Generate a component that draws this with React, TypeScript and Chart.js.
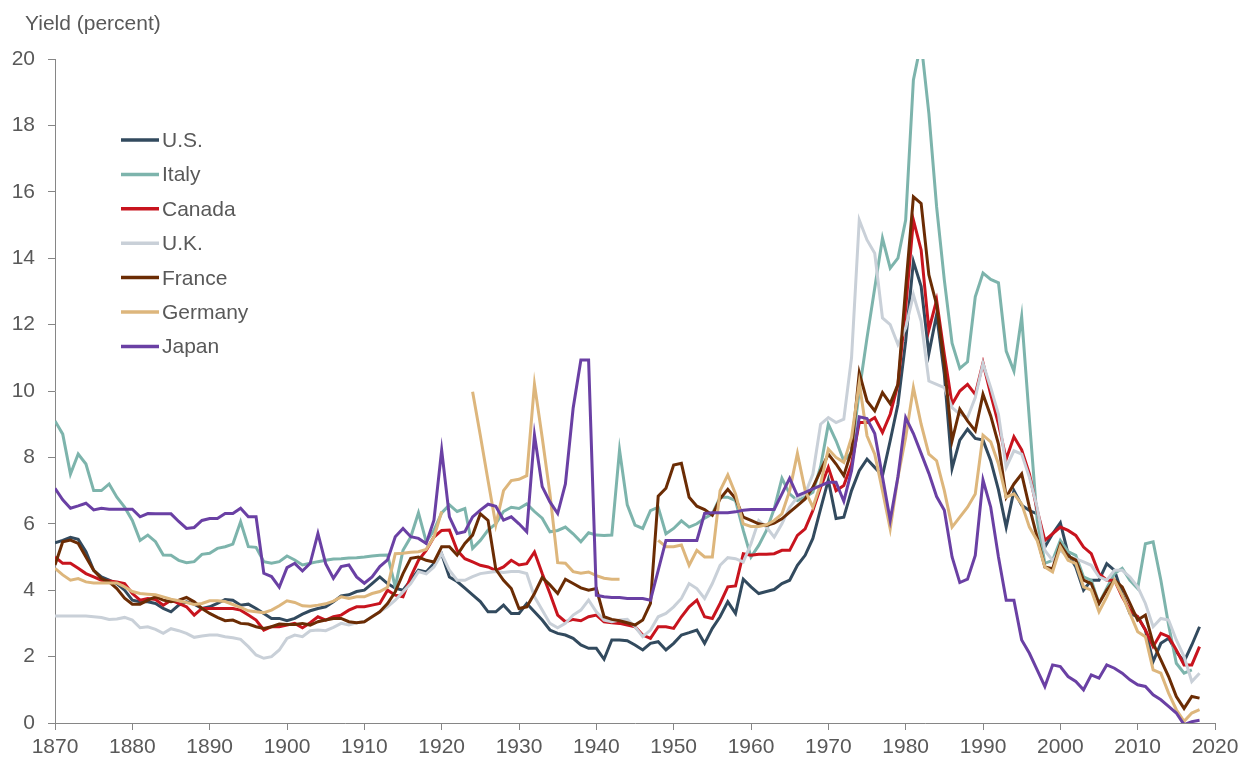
import React, { useEffect, useRef } from 'react';
import { Chart, registerables } from 'chart.js';

Chart.register(...registerables);

const years = [
  1870, 1871, 1872, 1873, 1874, 1875, 1876, 1877, 1878, 1879,
  1880, 1881, 1882, 1883, 1884, 1885, 1886, 1887, 1888, 1889,
  1890, 1891, 1892, 1893, 1894, 1895, 1896, 1897, 1898, 1899,
  1900, 1901, 1902, 1903, 1904, 1905, 1906, 1907, 1908, 1909,
  1910, 1911, 1912, 1913, 1914, 1915, 1916, 1917, 1918, 1919,
  1920, 1921, 1922, 1923, 1924, 1925, 1926, 1927, 1928, 1929,
  1930, 1931, 1932, 1933, 1934, 1935, 1936, 1937, 1938, 1939,
  1940, 1941, 1942, 1943, 1944, 1945, 1946, 1947, 1948, 1949,
  1950, 1951, 1952, 1953, 1954, 1955, 1956, 1957, 1958, 1959,
  1960, 1961, 1962, 1963, 1964, 1965, 1966, 1967, 1968, 1969,
  1970, 1971, 1972, 1973, 1974, 1975, 1976, 1977, 1978, 1979,
  1980, 1981, 1982, 1983, 1984, 1985, 1986, 1987, 1988, 1989,
  1990, 1991, 1992, 1993, 1994, 1995, 1996, 1997, 1998, 1999,
  2000, 2001, 2002, 2003, 2004, 2005, 2006, 2007, 2008, 2009,
  2010, 2011, 2012, 2013, 2014, 2015, 2016, 2017, 2018,
];

const usYield = [
  5.43, 5.5, 5.59, 5.53, 5.16, 4.6, 4.4, 4.3, 4.2, 4.0,
  3.7, 3.65, 3.65, 3.6, 3.45, 3.35, 3.55, 3.65, 3.58, 3.45,
  3.5, 3.6, 3.72, 3.7, 3.55, 3.58, 3.45, 3.3, 3.15, 3.15,
  3.08, 3.15, 3.28, 3.38, 3.45, 3.5, 3.65, 3.83, 3.86, 3.96,
  4.0, 4.2, 4.4, 4.2, 4.06, 4.0, 4.3, 4.6, 4.55, 4.8,
  5.09, 4.4, 4.26, 4.06, 3.86, 3.66, 3.35, 3.35, 3.55, 3.3,
  3.3, 3.6, 3.35, 3.1, 2.8, 2.7, 2.65, 2.55, 2.35, 2.25,
  2.25, 1.92, 2.5, 2.5, 2.48, 2.35, 2.2, 2.4, 2.45, 2.2,
  2.4, 2.65, 2.72, 2.8, 2.4, 2.85, 3.2, 3.65, 3.3, 4.33,
  4.1, 3.9, 3.96, 4.02, 4.2, 4.3, 4.75, 5.05, 5.56, 6.45,
  7.32, 6.16, 6.2, 7.0, 7.6, 7.95, 7.7, 7.45, 8.5, 9.6,
  11.5, 13.9, 13.15, 11.13, 12.3, 10.5, 7.67, 8.52, 8.85, 8.57,
  8.52, 7.9, 7.02, 5.9, 7.0, 6.56, 6.4, 6.3, 5.3, 5.7,
  6.03, 5.1, 4.7, 4.0, 4.3, 4.3, 4.8, 4.6, 3.9, 3.3,
  3.2, 2.8, 1.85, 2.4, 2.55, 2.15, 1.85, 2.35, 2.9,
];

const italyYield = [
  9.1, 8.7, 7.5, 8.1, 7.8, 7.0, 7.0, 7.2, 6.8, 6.5,
  6.1, 5.5, 5.66, 5.46, 5.06, 5.05, 4.9, 4.83, 4.86, 5.08,
  5.11, 5.26, 5.31, 5.39, 6.06, 5.31, 5.29, 4.86, 4.81, 4.86,
  5.03, 4.91, 4.76, 4.81, 4.86, 4.9, 4.94, 4.95, 4.97, 4.98,
  5.0, 5.03, 5.05, 5.06, 4.1, 5.2, 5.6, 6.33, 5.46, 5.8,
  6.33, 6.57, 6.37, 6.46, 5.26, 5.5, 5.81, 6.0, 6.37, 6.5,
  6.46, 6.6, 6.37, 6.17, 5.76, 5.8, 5.9, 5.7, 5.46, 5.73,
  5.66, 5.65, 5.66, 8.22, 6.57, 5.96, 5.86, 6.4, 6.5, 5.7,
  5.86, 6.09, 5.9, 6.0, 6.17, 6.3, 6.8, 6.8, 6.7, 5.8,
  5.0, 5.35, 5.8, 6.45, 7.37, 6.9, 6.7, 6.8, 6.95, 7.72,
  9.0, 8.5, 7.9, 8.15, 10.0, 11.6, 13.1, 14.6, 13.7, 14.0,
  15.15, 19.37, 20.5, 18.36, 15.55, 13.34, 11.44, 10.68, 10.88, 12.84,
  13.55, 13.36, 13.26, 11.2, 10.6, 12.24, 9.13, 6.11, 4.81, 4.9,
  5.5, 5.16, 5.05, 4.4, 4.3, 3.6, 4.06, 4.5, 4.66, 4.3,
  4.05, 5.4, 5.46, 4.3, 2.95, 1.8, 1.5, 1.6, null,
];

const canadaYield = [
  5.0, 4.81, 4.81, 4.66, 4.5, 4.4, 4.3, 4.28, 4.25, 4.2,
  3.9, 3.7, 3.75, 3.72, 3.55, 3.7, 3.6, 3.5, 3.25, 3.45,
  3.45, 3.45, 3.45, 3.45, 3.4, 3.25, 3.1, 2.8, 2.9, 2.9,
  2.95, 3.0, 2.87, 3.02, 3.2, 3.1, 3.2, 3.25, 3.4, 3.5,
  3.5, 3.55, 3.6, 4.0, 3.85, 3.8, 4.4, 4.9, 5.2, 5.6,
  5.8, 5.81, 5.2, 4.95, 4.85, 4.75, 4.7, 4.6, 4.7, 4.9,
  4.76, 4.8, 5.15, 4.5, 3.9, 3.25, 3.05, 3.12, 3.08, 3.2,
  3.25, 3.05, 3.02, 3.0, 2.95, 2.9, 2.65, 2.55, 2.9, 2.9,
  2.85, 3.2, 3.5, 3.7, 3.2, 3.15, 3.6, 4.1, 4.13, 5.1,
  5.05, 5.08, 5.08, 5.1, 5.2, 5.2, 5.65, 5.85, 6.4, 7.1,
  7.7, 7.0, 7.15, 7.8, 9.05, 9.05, 9.2, 8.75, 9.3, 10.2,
  12.5, 15.15, 14.25, 11.84, 12.74, 11.1, 9.6, 10.0, 10.2, 9.9,
  10.85, 9.9, 9.0, 7.95, 8.62, 8.23, 7.5, 6.42, 5.5, 5.7,
  5.9, 5.8, 5.65, 5.3, 5.1, 4.5, 4.3, 4.3, 3.8, 3.4,
  3.2, 2.8, 2.3, 2.7, 2.6, 2.2, 1.75, 1.75, 2.3,
];

const ukYield = [
  3.22, 3.22, 3.22, 3.22, 3.22, 3.2, 3.18, 3.12, 3.13, 3.18,
  3.1, 2.87, 2.9, 2.82, 2.7, 2.84, 2.78, 2.7, 2.58, 2.62,
  2.65, 2.65, 2.6, 2.57, 2.52, 2.3, 2.05, 1.95, 2.0, 2.2,
  2.55, 2.65, 2.6, 2.78, 2.8, 2.78, 2.88, 3.0, 2.95, 3.02,
  3.05, 3.2, 3.35, 3.5, 3.7, 3.95, 4.2, 4.56, 4.49, 4.7,
  5.1, 4.6, 4.3, 4.3, 4.41, 4.5, 4.53, 4.56, 4.53, 4.56,
  4.56, 4.5, 3.8, 3.4, 3.0, 2.87, 3.0, 3.25, 3.4, 3.7,
  3.35, 3.1, 3.05, 3.1, 3.12, 2.9, 2.6, 2.8, 3.2, 3.3,
  3.5, 3.75, 4.2, 4.05, 3.75, 4.2, 4.75, 4.98, 4.95, 4.85,
  5.4, 6.1, 5.9, 5.6, 6.0, 6.5, 6.8, 6.9, 7.5, 9.0,
  9.2, 9.05, 9.15, 11.0, 15.15, 14.55, 14.15, 12.2, 12.0, 11.4,
  11.9, 12.9, 12.1, 10.3, 10.2, 10.1, 9.5, 9.3, 9.2, 9.8,
  10.83, 10.1, 9.3, 7.7, 8.2, 8.1, 7.4, 6.5, 5.2, 4.9,
  5.2, 5.0, 4.95, 4.85, 4.75, 4.4, 4.3, 4.6, 4.6, 4.4,
  4.1, 3.6, 2.9, 3.15, 3.1, 2.5, 2.0, 1.25, 1.5,
];

const franceYield = [
  4.76, 5.46, 5.51, 5.41, 5.0, 4.6, 4.35, 4.25, 4.05, 3.76,
  3.58, 3.58, 3.7, 3.8, 3.7, 3.65, 3.7, 3.78, 3.65, 3.45,
  3.3, 3.18, 3.08, 3.1, 3.0, 2.98, 2.9, 2.85, 2.9, 2.98,
  2.97, 2.97, 3.0, 2.95, 3.05, 3.1, 3.15, 3.15, 3.05, 3.02,
  3.05, 3.2, 3.35, 3.6, 3.95, 4.5, 4.96, 5.0, 4.9, 4.85,
  5.31, 5.31, 5.06, 5.41, 5.66, 6.3, 6.1, 4.63, 4.3, 4.05,
  3.45, 3.5, 3.9, 4.38, 4.16, 3.9, 4.33, 4.2, 4.07, 4.0,
  4.05, 3.2, 3.12, 3.08, 3.02, 2.95, 3.1, 3.6, 6.83, 7.07,
  7.77, 7.82, 6.8, 6.53, 6.43, 6.26, 6.75, 7.04, 6.76, 6.2,
  6.1, 6.0, 5.95, 6.02, 6.15, 6.35, 6.55, 6.75, 7.1, 7.6,
  8.1, 7.8, 7.45, 8.2, 10.55, 9.7, 9.4, 9.95, 9.62, 10.2,
  13.1, 15.85, 15.65, 13.5, 12.6, 10.8, 8.5, 9.45, 9.1, 8.8,
  9.9, 9.25, 8.4, 6.8, 7.2, 7.5, 6.5, 5.6, 4.7, 4.65,
  5.38, 5.03, 4.91, 4.3, 4.2, 3.6, 4.0, 4.3, 4.1, 3.6,
  3.1, 3.25, 2.4, 1.9, 1.4, 0.8, 0.44, 0.8, 0.75,
];

const germanyYield = [
  4.66, 4.46, 4.3, 4.35, 4.25, 4.22, 4.22, 4.22, 4.22, 4.1,
  3.96, 3.9, 3.88, 3.86, 3.8, 3.73, 3.68, 3.63, 3.57, 3.6,
  3.68, 3.68, 3.66, 3.57, 3.48, 3.38, 3.35, 3.32, 3.4, 3.53,
  3.68, 3.63, 3.53, 3.52, 3.55, 3.59, 3.67, 3.8, 3.75, 3.8,
  3.8, 3.9, 3.96, 4.09, 5.1, 5.11, 5.14, 5.16, 5.23, 5.6,
  6.37, null, null, null, 9.98, 8.66, 7.3, 5.97, 7.0, 7.3,
  7.34, 7.45, 10.2, 8.6, 6.9, 4.83, 4.81, 4.56, 4.51, 4.55,
  4.44, 4.36, 4.33, 4.33, null, null, null, null, 5.5, 5.31,
  5.31, 5.36, 4.75, 5.2, 5.0, 5.0, 7.0, 7.47, 6.9, 6.0,
  5.92, 5.92, 5.97, 6.1, 6.3, 7.0, 8.12, 7.0, 6.5, 7.2,
  8.25, 8.0, 7.85, 8.6, 10.25, 8.65, 8.1, 7.0, 5.85, 7.4,
  8.6, 10.1, 9.0, 8.1, 7.9, 7.0, 5.9, 6.2, 6.5, 6.9,
  8.67, 8.47, 7.8, 6.8, 6.9, 6.6, 5.9, 5.5, 4.7, 4.55,
  5.3, 4.9, 4.8, 4.1, 4.0, 3.35, 3.8, 4.3, 3.85, 3.3,
  2.75, 2.6, 1.6, 1.5, 0.9, 0.4, 0.05, 0.3, 0.4,
];

const japanYield = [
  7.07, 6.72, 6.47, 6.54, 6.62, 6.42, 6.47, 6.44, 6.44, 6.44,
  6.44, 6.21, 6.31, 6.3, 6.3, 6.3, 6.07, 5.86, 5.89, 6.1,
  6.16, 6.16, 6.31, 6.31, 6.47, 6.21, 6.21, 4.51, 4.41, 4.09,
  4.68, 4.81, 4.58, 4.81, 5.71, 4.8, 4.36, 4.71, 4.76, 4.4,
  4.21, 4.4, 4.71, 4.91, 5.61, 5.86, 5.61, 5.56, 5.41, 6.11,
  8.22, 6.21, 5.71, 5.76, 6.21, 6.41, 6.59, 6.53, 6.11, 6.21,
  6.0, 5.76, 8.67, 7.12, 6.66, 6.31, 7.2, 9.48, 10.93, 10.93,
  3.85, 3.8, 3.78, 3.78, 3.75, 3.75, 3.75, 3.7, 4.6, 5.5,
  5.5, 5.5, 5.5, 5.5, 6.31, 6.33, 6.33, 6.33, 6.36, 6.41,
  6.43, 6.43, 6.43, 6.43, 6.9, 7.37, 6.85, 6.95, 7.05, 7.15,
  7.25, 7.25, 6.68, 7.6, 9.22, 9.17, 8.72, 7.42, 6.11, 7.42,
  9.2, 8.72, 8.12, 7.52, 6.82, 6.41, 5.0, 4.23, 4.33, 5.05,
  7.32, 6.5, 5.0, 3.7, 3.7, 2.5, 2.1, 1.6, 1.1, 1.75,
  1.7, 1.4, 1.25, 1.0, 1.45, 1.35, 1.75, 1.65, 1.5, 1.3,
  1.15, 1.1, 0.85, 0.7, 0.5, 0.3, -0.05, 0.04, 0.08,
];

const seriesNames = ['U.S.', 'Italy', 'Canada', 'U.K.', 'France', 'Germany', 'Japan'];
const seriesValues = [usYield, italyYield, canadaYield, ukYield, franceYield, germanyYield, japanYield];
const seriesColors = ['#324A5E', '#7DB4AC', '#C8141E', '#C9D0D8', '#6B2C04', '#DDB67C', '#6A40A4'];

const xTickValues = [1870, 1880, 1890, 1900, 1910, 1920, 1930, 1940, 1950, 1960, 1970, 1980, 1990, 2000, 2010, 2020];
const yTickValues = [0, 2, 4, 6, 8, 10, 12, 14, 16, 18, 20];
const yAxisTitle = 'Yield (percent)';

const FONT = '"Liberation Sans", Arial, Helvetica, sans-serif';
const TEXT_COLOR = '#595959';
const AXIS_COLOR = '#868686';

export default function App() {
  const canvasRef = useRef<HTMLCanvasElement>(null);

  useEffect(() => {
    const canvas = canvasRef.current;
    if (!canvas) return;

    const overlayPlugin = {
      id: 'overlayText',
      afterDraw(chart: any) {
        const ctx = chart.ctx;
        ctx.save();
        ctx.fillStyle = TEXT_COLOR;
        ctx.font = `21px ${FONT}`;
        ctx.textAlign = 'left';
        ctx.textBaseline = 'alphabetic';
        ctx.fillText(yAxisTitle, 25, 29.5);

        const x0 = 121;
        const x1 = 159;
        const yStart = 140;
        const step = 34.4;
        seriesNames.forEach((name, i) => {
          const y = yStart + i * step;
          ctx.strokeStyle = seriesColors[i];
          ctx.lineWidth = 3.5;
          ctx.lineCap = 'butt';
          ctx.beginPath();
          ctx.moveTo(x0, y);
          ctx.lineTo(x1, y);
          ctx.stroke();
          ctx.fillStyle = TEXT_COLOR;
          ctx.fillText(name, 162, y + 7);
        });
        ctx.restore();
      },
    };

    const datasets = seriesNames.map((name, i) => ({
      label: name,
      data: years.map((yr, j) => ({ x: yr, y: seriesValues[i][j] })),
      borderColor: seriesColors[i],
      backgroundColor: seriesColors[i],
      borderWidth: 3,
      pointRadius: 0,
      pointHoverRadius: 0,
      tension: 0,
      spanGaps: false,
      fill: false,
      order: seriesNames.length - i,
    }));

    const chart = new Chart(canvas, {
      type: 'line',
      data: { datasets },
      options: {
        animation: false,
        responsive: false,
        maintainAspectRatio: false,
        events: [],
        layout: { padding: { top: 59, right: 29, bottom: 0, left: 0 } },
        plugins: {
          legend: { display: false },
          tooltip: { enabled: false },
          title: { display: false },
        },
        scales: {
          x: {
            type: 'linear',
            min: 1870,
            max: 2020,
            afterBuildTicks: (scale: any) => {
              scale.ticks = xTickValues.map((v) => ({ value: v }));
            },
            afterFit: (scale: any) => {
              scale.height = 40;
            },
            grid: {
              drawOnChartArea: false,
              drawTicks: true,
              tickLength: 7,
              color: AXIS_COLOR,
              lineWidth: 1,
            },
            border: { display: true, color: AXIS_COLOR, width: 1 },
            ticks: {
              color: TEXT_COLOR,
              font: { family: FONT, size: 21 },
              padding: 5,
              maxRotation: 0,
              autoSkip: false,
              callback: (v: any) => String(v),
            },
          },
          y: {
            type: 'linear',
            min: 0,
            max: 20,
            afterBuildTicks: (scale: any) => {
              scale.ticks = yTickValues.map((v) => ({ value: v }));
            },
            afterFit: (scale: any) => {
              scale.width = 55;
            },
            grid: {
              drawOnChartArea: false,
              drawTicks: true,
              tickLength: 7,
              color: AXIS_COLOR,
              lineWidth: 1,
            },
            border: { display: true, color: AXIS_COLOR, width: 1 },
            ticks: {
              color: TEXT_COLOR,
              font: { family: FONT, size: 21 },
              padding: 13,
              autoSkip: false,
              callback: (v: any) => String(v),
            },
          },
        },
      },
      plugins: [overlayPlugin],
    });

    return () => {
      chart.destroy();
    };
  }, []);

  return (
    <div style={{ position: 'absolute', left: 0, top: 0, width: 1244, height: 763, background: '#ffffff' }}>
      <canvas ref={canvasRef} width={1244} height={763} style={{ display: 'block', width: 1244, height: 763 }} />
    </div>
  );
}
